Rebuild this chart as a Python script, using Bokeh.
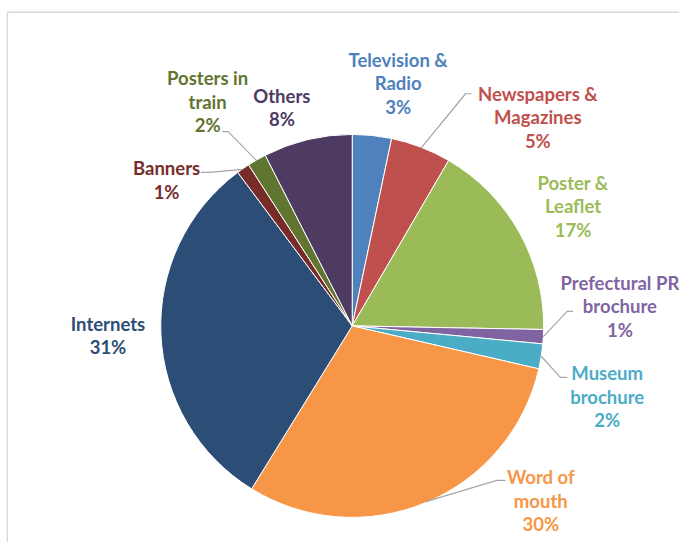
import numpy as np
from bokeh.plotting import figure
from bokeh.models import Range1d, ColumnDataSource
from bokeh.core.properties import value
from bokeh.embed import file_html
from bokeh.resources import INLINE

# ---- data ----
categories = ["Television &\nRadio", "Newspapers &\nMagazines", "Poster &\nLeaflet",
              "Prefectural PR\nbrochure", "Museum\nbrochure", "Word of\nmouth",
              "Internets", "Banners", "Posters in\ntrain", "Others"]
shares = [3.3, 5.1, 16.9, 1.2, 2.1, 30.2, 31.0, 1.1, 1.6, 7.5]
colors = ["#4F81BD", "#C0504D", "#9BBB59", "#8064A2", "#4BACC6", "#F79646",
          "#2C4D75", "#772C2A", "#5F7530", "#4D3B62"]
label_colors = ["#4F81BD", "#C0504D", "#9BBB59", "#8064A2", "#4BACC6", "#F79646",
                "#2C4D75", "#772C2A", "#5F7530", "#4D3B62"]

# ---- layout (positions in the reference picture's 695x558 pixel space) ----
W, H = 679, 542
RW, RH = 695, 558
def X(sx): return sx
def Y(sy): return RH - sy

CX, CY, R = 360, 335, 196
label_pos = [(407, 85), (550, 120), (586, 212), (634, 315), (621, 408),
             (553, 515), (110, 345), (170, 185), (212, 104), (288, 110)]
# leader lines: index -> (text end point, elbow point)
leaders = {1: ((482, 96), (476, 96)),
           3: ((586, 320), (580, 320)),
           4: ((580, 388), (573, 388)),
           5: ((517, 494), (508, 494)),
           7: ((205, 177), (214, 177)),
           8: ((227, 135), (233, 135))}

p = figure(width=W, height=H, output_backend="svg", toolbar_location=None,
           x_range=Range1d(0, RW), y_range=Range1d(0, RH), min_border=0)
p.axis.visible = False
p.grid.visible = False
p.outline_line_color = None
p.background_fill_color = "white"

# chart border (left and top edges visible)
p.segment(x0=[X(7), X(7)], y0=[Y(12), Y(12)], x1=[X(7), X(720)], y1=[Y(580), Y(12)],
          line_color="#D9D9D9", line_width=1.5)

fr = np.array(shares) / sum(shares)
cum = np.concatenate([[0], np.cumsum(fr)])
start = np.pi / 2 - 2 * np.pi * cum[:-1]
end = np.pi / 2 - 2 * np.pi * cum[1:]
mid = (cum[:-1] + cum[1:]) / 2 * 2 * np.pi  # clockwise from top

src = ColumnDataSource(dict(start=start, end=end, color=colors))
p.wedge(x=X(CX), y=Y(CY), radius=R, start_angle="start", end_angle="end",
        direction="clock", fill_color="color", line_color="white", line_width=1,
        source=src)

# leader lines
for i, (a, b) in leaders.items():
    ex = CX + R * np.sin(mid[i])
    ey = CY - R * np.cos(mid[i])
    p.line([X(a[0]), X(b[0]), X(ex)], [Y(a[1]), Y(b[1]), Y(ey)],
           line_color="#A6A6A6", line_width=1.2)

texts = [f"{c}\n{round(s)}%" for c, s in zip(categories, shares)]
p.text(x=[X(lx) for lx, ly in label_pos], y=[Y(ly) for lx, ly in label_pos],
       text=texts, text_color=label_colors, text_align="center",
       text_baseline="middle", text_font=value("Lato"), text_font_style="bold",
       text_font_size="18.5px", text_line_height=1.07)

open("out.html", "w").write(file_html(p, INLINE))
